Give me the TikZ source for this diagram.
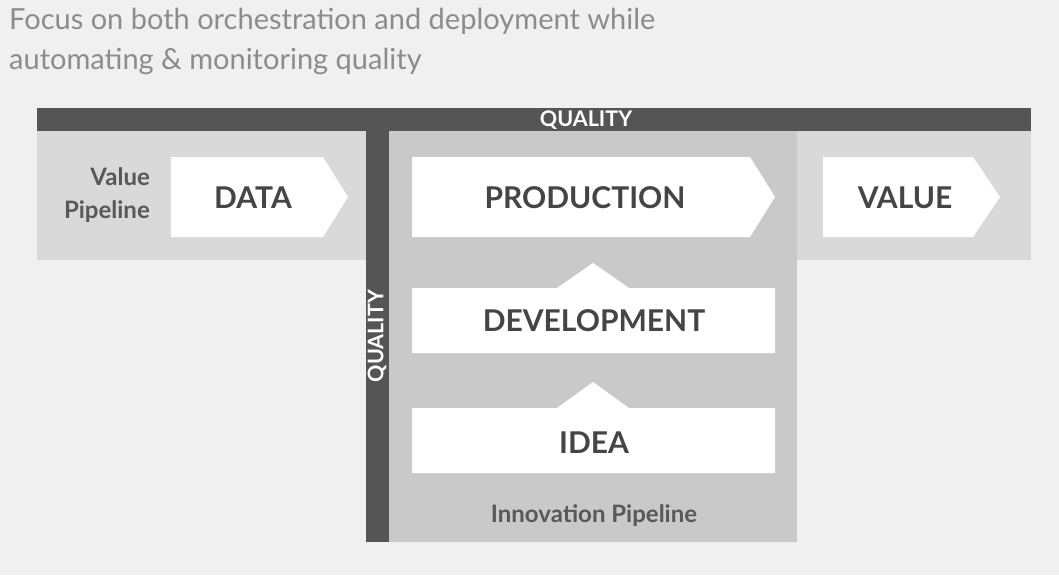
\documentclass[tikz,border=0pt]{standalone}
\usepackage{fontspec}
\setmainfont{Lato}
\usetikzlibrary{positioning}

\definecolor{bggray}{HTML}{F0F0F0}
\definecolor{bandgray}{HTML}{D9D9D9}
\definecolor{innogray}{HTML}{C9C9C9}
\definecolor{bargray}{HTML}{555555}
\definecolor{labelgray}{HTML}{454545}
\definecolor{titlegray}{HTML}{8C8C8C}

\begin{document}
\begin{tikzpicture}[x=1pt,y=-1pt,
	box label/.style={font=\fontsize{30}{32}\selectfont\bfseries,text=labelgray,inner sep=0pt},
	pipe label/.style={font=\fontsize{24}{33}\selectfont\bfseries,text=labelgray!90!white,inner sep=0pt},
	bar label/.style={font=\fontsize{21.5}{22}\selectfont\bfseries,text=white,inner sep=0pt}]
	
	\fill[bggray] (0,0) rectangle (1059,575);
	\useasboundingbox (0,0) rectangle (1059,575);
	
	% title
	\node[anchor=north west,align=left,inner sep=0pt,text=titlegray,
		font=\fontsize{29}{40}\selectfont] (title) at (9,8)
		{Focus on both orchestration and deployment while\\automating \& monitoring quality};
	
	% pipelines
	\fill[bandgray] (37,131) rectangle (1031,260);
	\fill[innogray] (389,131) rectangle (797,542);
	
	% quality bars
	\fill[bargray] (37,108) rectangle (1031,131);
	\fill[bargray] (366,131) rectangle (389,542);
	
	% value pipeline arrows
	\fill[white] (171,157) -- (323,157) -- (348,197) -- (323,237) -- (171,237) -- cycle;
	\fill[white] (412,157) -- (750,157) -- (775,197) -- (750,237) -- (412,237) -- cycle;
	\fill[white] (823,157) -- (973,157) -- (1000,197) -- (973,237) -- (823,237) -- cycle;
	
	% innovation pipeline steps
	\fill[white] (412,288) -- (557,288) -- (593,263) -- (629,288) -- (775,288) -- (775,353) -- (412,353) -- cycle;
	\fill[white] (412,408) -- (557,408) -- (593,382) -- (629,408) -- (775,408) -- (775,473) -- (412,473) -- cycle;
	
	\node[box label] (data) at (253,198) {DATA};
	\node[box label] (prod) at (585,198) {PRODUCTION};
	\node[box label] (value) at (905,198) {VALUE};
	\node[box label] (dev) at (594,321) {DEVELOPMENT};
	\node[box label] (idea) at (594,443) {IDEA};
	
	\node[pipe label,align=right,anchor=east] (vp) at (150,195) {Value\\Pipeline};
	\node[pipe label] (ip) [below=50pt of idea] {Innovation Pipeline};
	
	\node[bar label] (qtop) at (586,120) {QUALITY};
	\node[bar label,rotate=90] (qside) at (377,336) {QUALITY};
\end{tikzpicture}
\end{document}
